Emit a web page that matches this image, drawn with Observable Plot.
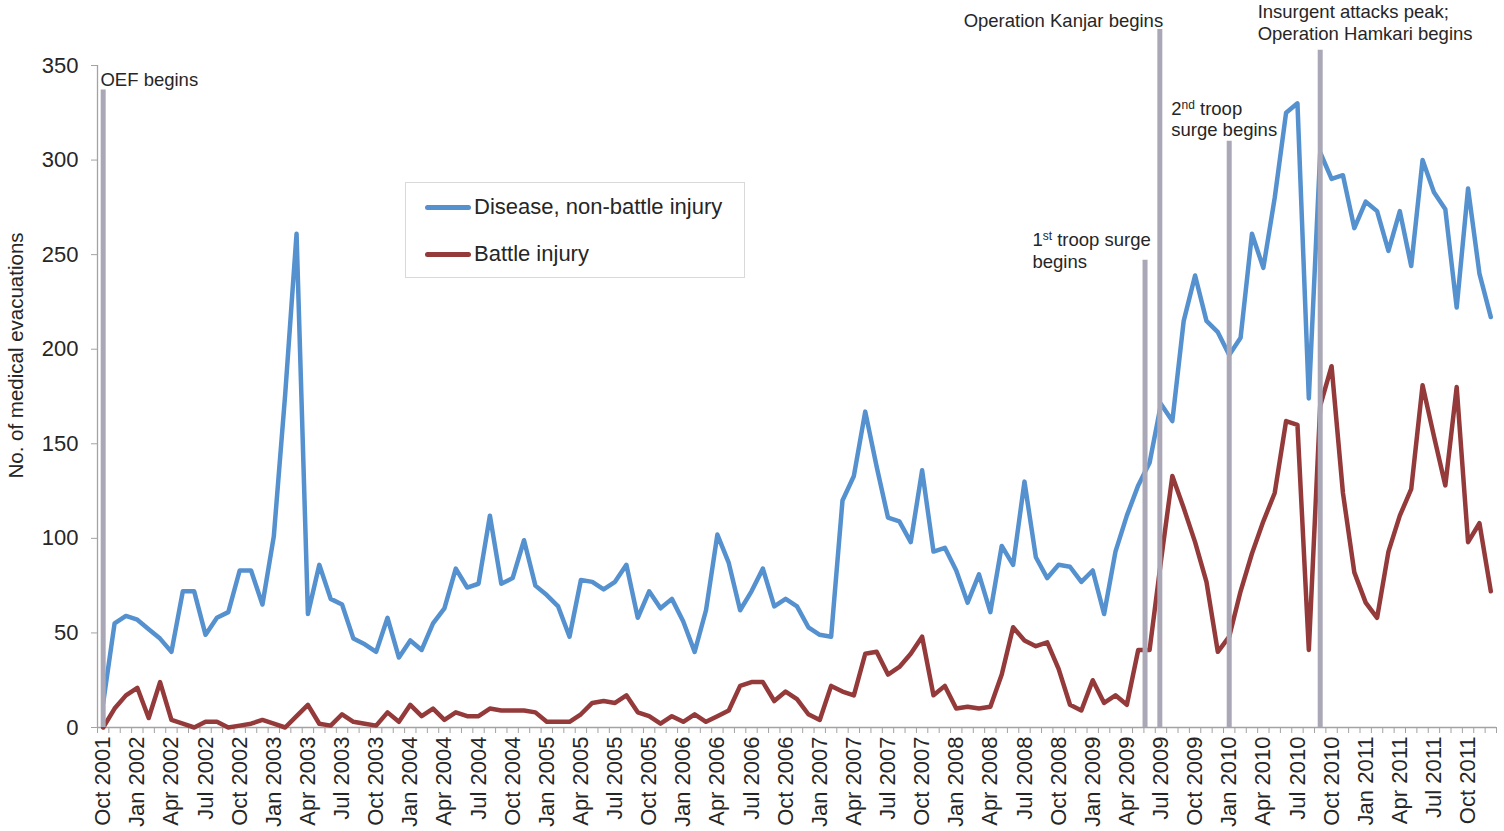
<!DOCTYPE html>
<html>
<head>
<meta charset="utf-8">
<script src="https://cdn.jsdelivr.net/npm/d3@7"></script>
<script src="https://cdn.jsdelivr.net/npm/@observablehq/plot@0.6"></script>
<style>
  body { margin: 0; background: #fff; font-family: "Liberation Sans", Arial, sans-serif; }
  #wrap { position: relative; width: 1504px; height: 831px; overflow: hidden; }
  #legend { position: absolute; left: 405px; top: 182px; width: 338px; height: 94px;
            border: 1px solid #d9d9d9; background: #fff; }
  .item { position: absolute; left: 19px; height: 26px; display: flex; align-items: center;
          font-size: 22px; color: #262626; white-space: nowrap; }
  .swatch { width: 46px; height: 5px; border-radius: 3px; margin-right: 3px; }
</style>
</head>
<body>
<div id="wrap"></div>
<script>
// ---- categories: monthly, Oct 2001 – Dec 2011 ----
const firstMonth = new Date(Date.UTC(2001, 9, 1));
const endMonth = new Date(Date.UTC(2012, 0, 1));
const categories = d3.utcMonth.range(firstMonth, endMonth).map(d3.utcFormat("%b %Y"));

// ---- series values ----
const seriesNames = ["Disease, non-battle injury", "Battle injury"];
const seriesColors = ["#5591cf", "#943a3a"];

const dnbi = [
  13, 55, 59, 57, 52, 47, 40, 72, 72, 49, 58, 61,
  83, 83, 65, 101, 176, 261, 60, 86, 68, 65, 47, 44,
  40, 58, 37, 46, 41, 55, 63, 84, 74, 76, 112, 76,
  79, 99, 75, 70, 64, 48, 78, 77, 73, 77, 86, 58,
  72, 63, 68, 56, 40, 62, 102, 87, 62, 72, 84, 64,
  68, 64, 53, 49, 48, 120, 133, 167, 138, 111, 109, 98,
  136, 93, 95, 83, 66, 81, 61, 96, 86, 130, 90, 79,
  86, 85, 77, 83, 60, 93, 112, 128, 140, 171, 162, 215,
  239, 215, 209, 197, 206, 261, 243, 280, 325, 330, 174, 304,
  290, 292, 264, 278, 273, 252, 273, 244, 300, 283, 274, 222,
  285, 240, 217
];

const battle = [
  0, 10, 17, 21, 5, 24, 4, 2, 0, 3, 3, 0,
  1, 2, 4, 2, 0, 6, 12, 2, 1, 7, 3, 2,
  1, 8, 3, 12, 6, 10, 4, 8, 6, 6, 10, 9,
  9, 9, 8, 3, 3, 3, 7, 13, 14, 13, 17, 8,
  6, 2, 6, 3, 7, 3, 6, 9, 22, 24, 24, 14,
  19, 15, 7, 4, 22, 19, 17, 39, 40, 28, 32, 39,
  48, 17, 22, 10, 11, 10, 11, 28, 53, 46, 43, 45,
  31, 12, 9, 25, 13, 17, 12, 41, 41, 88, 133, 116,
  98, 77, 40, 48, 72, 92, 109, 124, 162, 160, 41, 170,
  191, 124, 82, 66, 58, 93, 112, 126, 181, 154, 128, 180,
  98, 108, 72
];

// ---- axis ticks / titles ----
const yTicks = [0, 50, 100, 150, 200, 250, 300, 350];
const labelEvery = 3;
const yTitle = "No. of medical evacuations";

// ---- event annotations (month index, top of rule in evacuations) ----
const eventNames = ["OEF begins", "1st troop surge begins", "Operation Kanjar begins",
                    "2nd troop surge begins", "Insurgent attacks peak; Operation Hamkari begins"];
const eventMonth = [0, 91.6, 92.9, 99, 107];
const eventTop   = [337, 247, 369, 310, 358];

// ---- annotation text lines (month index of left edge, level of line centre) ----
const noteText = ["OEF begins", "Operation Kanjar begins", "1st troop surge", "begins",
                  "2nd troop", "surge begins", "Insurgent attacks peak;", "Operation Hamkari begins"];
const noteMonth = [-0.24, 75.65, 81.7, 81.7, 93.9, 93.9, 101.5, 101.5];
const noteLevel = [342.5, 373.3, 257.5, 246, 326.8, 315.6, 378.2, 366.5];

// ---- build tables ----
const series = [dnbi, battle];
const lineData = series.flatMap((vals, s) =>
  vals.map((v, i) => ({ i, month: categories[i], value: v, series: seriesNames[s] })));
const events = eventNames.map((name, k) => ({ name, x: eventMonth[k], top: eventTop[k] }));
const notes = noteText.map((t, k) => ({ text: t, x: noteMonth[k], y: noteLevel[k] }));
const n = categories.length;
const xDomain = [-0.5, n - 0.5];
const boundaries = d3.range(0, n + 1).map(k => k - 0.5);
const labelIdx = d3.range(0, n, labelEvery);

const axisGray = "#a3a3a3";
const textCol = "#262626";

const chart = Plot.plot({
  width: 1504,
  height: 831,
  marginLeft: 97,
  marginRight: 8,
  marginTop: 65,
  marginBottom: 104,
  style: { fontFamily: "'Liberation Sans', Arial, sans-serif", color: textCol, background: "#fff", overflow: "visible" },
  x: { type: "linear", domain: xDomain },
  y: { domain: [0, 350] },
  color: { domain: seriesNames, range: seriesColors },
  marks: [
    Plot.axisY({ ticks: yTicks, tickSize: 6, tickPadding: 13, stroke: axisGray, fill: textCol,
                 fontSize: 22, tickFormat: d3.format("d"), label: null }),
    Plot.text([yTitle], { frameAnchor: "left", text: d => d, rotate: -90, textAnchor: "middle",
                          dx: -81, dy: -41, fontSize: 20.5, fill: textCol }),
    Plot.axisX({ ticks: boundaries, tickSize: 6, tickFormat: () => "", stroke: axisGray, label: null }),
    Plot.axisX({ ticks: labelIdx, tickSize: 0, tickPadding: 9, tickRotate: -90, fill: textCol,
                 fontSize: 22, tickFormat: i => categories[i], label: null }),
    Plot.ruleY([0], { stroke: axisGray, strokeWidth: 1.3 }),
    Plot.ruleX([xDomain[0]], { stroke: axisGray, strokeWidth: 1.3 }),
    Plot.line(lineData, { x: "i", y: "value", z: "series", stroke: "series",
                          strokeWidth: 4.5, strokeLinejoin: "round", strokeLinecap: "round" }),
    Plot.ruleX(events, { x: "x", y1: 0, y2: "top", stroke: "#aaa7b6", strokeWidth: 5 }),
    Plot.text(notes, { x: "x", y: "y", text: "text", textAnchor: "start", fontSize: 18.5, fill: textCol })
  ]
});

document.getElementById("wrap").appendChild(chart);

// superscripts for ordinal annotations
chart.querySelectorAll("text").forEach(t => {
  const s = t.textContent;
  const m = s.match(/^(\d)(st|nd)( .*)$/);
  if (m && t.children.length === 0) {
    t.textContent = "";
    const ns = "http://www.w3.org/2000/svg";
    const a = document.createElementNS(ns, "tspan"); a.textContent = m[1];
    const b = document.createElementNS(ns, "tspan"); b.textContent = m[2];
    b.setAttribute("font-size", "12"); b.setAttribute("dy", "-6");
    const c = document.createElementNS(ns, "tspan"); c.textContent = m[3];
    c.setAttribute("dy", "6");
    t.append(a, b, c);
  }
});

// legend (inside plot area, as in reference)
const legend = document.createElement("div");
legend.id = "legend";
seriesNames.forEach((name, s) => {
  const item = document.createElement("div");
  item.className = "item";
  item.style.top = (s === 0 ? 11 : 58) + "px";
  const sw = document.createElement("span");
  sw.className = "swatch";
  sw.style.background = seriesColors[s];
  const tx = document.createElement("span");
  tx.textContent = name;
  item.append(sw, tx);
  legend.appendChild(item);
});
document.getElementById("wrap").appendChild(legend);
</script>
</body>
</html>
